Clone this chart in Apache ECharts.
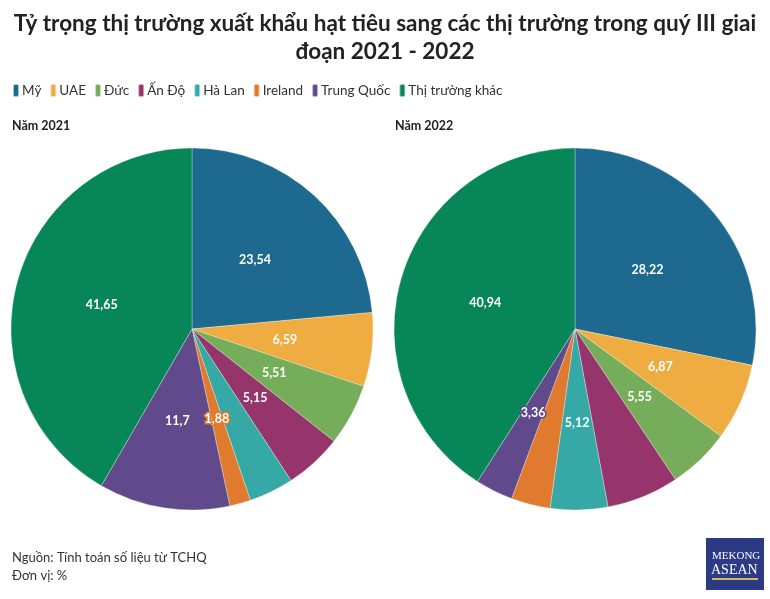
<!DOCTYPE html>
<html><head><meta charset="utf-8">
<script src="https://cdn.jsdelivr.net/npm/echarts@6/dist/echarts.min.js"></script>
<style>html,body{margin:0;padding:0;background:#fff}#c{width:770px;height:599px}</style>
</head><body><div id="c"></div>
<script>
const categories = ['Mỹ','UAE','Đức','Ấn Độ','Hà Lan','Ireland','Trung Quốc','Thị trường khác'];
const values2021 = [23.54, 6.59, 5.51, 5.15, 3.98, 1.88, 11.7, 41.65];
const values2022 = [28.22, 6.87, 5.55, 6.44, 5.12, 3.50, 3.36, 40.94];
const hiddenLabels2021 = ['Hà Lan'];
const hiddenLabels2022 = ['Ấn Độ','Ireland'];
const colors = ['#1e6990','#eeac41','#75ad5b','#96356b','#36a8a5','#e07a2e','#604a8c','#078657'];
const FONT = 'Lato, "Noto Sans", sans-serif';
const PILL = 'path://M2,0h2a2,2 0 0 1 2,2v9a2,2 0 0 1 -2,2h-2a2,2 0 0 1 -2,-2v-9a2,2 0 0 1 2,-2z';

function buildData(vals, hidden){
  return categories.map((c,i)=>({
    name:c, value:vals[i],
    itemStyle:{color:colors[i]},
    label:{show: hidden.indexOf(c)<0, textBorderColor: colors[i]}
  }));
}
function pie(center, vals, hidden){
  return {
    type:'pie', radius:[0,181], center:center, startAngle:90, clockwise:true,
    data: buildData(vals, hidden),
    itemStyle:{borderColor:'rgba(255,255,255,0.6)', borderWidth:0.5},
    label:{position:'inside', color:'#fff', fontWeight:'bold', fontSize:12.5, fontFamily:FONT,
      textBorderWidth:3,
      formatter:p=>String(p.value).replace('.',',')},
    labelLine:{show:false},
    emphasis:{disabled:true},
    silent:true
  };
}
const chart = echarts.init(document.getElementById('c'));
chart.setOption({
  animation:false,
  color: colors,
  title:[
    {text:'Tỷ trọng thị trường xuất khẩu hạt tiêu sang các thị trường trong quý III giai\nđoạn 2021 - 2022',
     left:'center', top:10, padding:0,
     textStyle:{fontFamily:FONT, fontWeight:'bold', fontSize:22.5, color:'#222', lineHeight:28, align:'center'}},
    {text:'Năm 2021', left:12, top:119, padding:0, textStyle:{fontFamily:FONT, fontWeight:'bold', fontSize:12.5, color:'#222'}},
    {text:'Năm 2022', left:395, top:119, padding:0, textStyle:{fontFamily:FONT, fontWeight:'bold', fontSize:12.5, color:'#222'}}
  ],
  legend:{
    data:categories, left:12, top:83, padding:0, icon:PILL, itemWidth:6, itemHeight:13, itemGap:8,
    textStyle:{fontFamily:FONT, fontSize:13.5, color:'#333', padding:[0,0,0,-2]},
    selectedMode:false
  },
  series:[ pie([192,329], values2021, hiddenLabels2021), pie([575,329], values2022, hiddenLabels2022) ],
  graphic:[
    {type:'text', left:12, top:551, style:{text:'Nguồn: Tính toán số liệu từ TCHQ', fontFamily:FONT, fontSize:13, fill:'#333'}},
    {type:'text', left:12, top:569, style:{text:'Đơn vị: %', fontFamily:FONT, fontSize:13, fill:'#333'}},
    {type:'rect', left:706, top:538, shape:{width:58, height:52}, style:{fill:'#2c3a86'}},
    {type:'text', left:712, top:551, style:{text:'MEKONG', fontFamily:'"Liberation Serif", serif', fontSize:11, fill:'#fff'}},
    {type:'text', left:711, top:563, style:{text:'ASEAN', fontFamily:'"Liberation Serif", serif', fontSize:14, fill:'#fff'}},
    {type:'rect', left:712, top:578, shape:{width:46, height:2}, style:{fill:'#d9b75a'}}
  ]
});
</script></body></html>
